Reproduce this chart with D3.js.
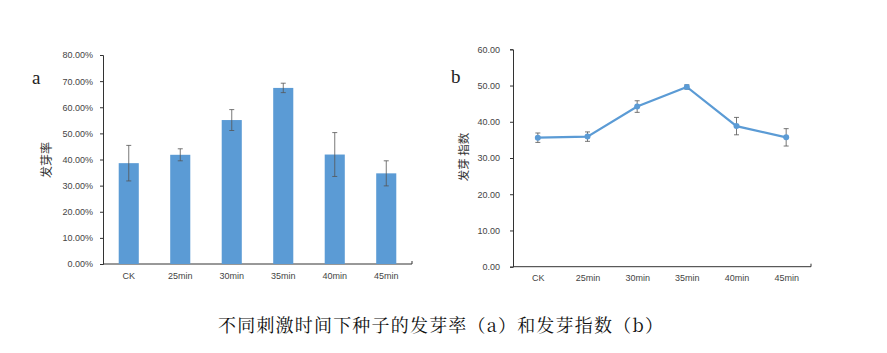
<!DOCTYPE html>
<html>
<head>
<meta charset="utf-8">
<script src="https://cdn.jsdelivr.net/npm/d3@7"></script>
<style>
  body { margin: 0; background: #fff; }
  svg { display: block; }
</style>
</head>
<body>
<div id="chart"></div>
<script>
const categories = ["CK", "25min", "30min", "35min", "40min", "45min"]
// 发芽率 (%)
const rateValues = [38.6, 41.8, 55.1, 67.4, 41.9, 34.7]
const rateErrors = [6.8, 2.3, 4.0, 1.8, 8.4, 4.8]
// 发芽指数
const indexValues = [35.6, 35.9, 44.2, 49.6, 38.8, 35.7]
const indexErrors = [1.3, 1.3, 1.6, 0.6, 2.4, 2.4]
const rateTicks = [0, 10, 20, 30, 40, 50, 60, 70, 80]
const indexTicks = [0, 10, 20, 30, 40, 50, 60]

const width = 887, height = 353
const blue = "#5b9bd5"
const axisColor = "#333"
const errColor = "#555"
const tickFont = "Arial, 'Liberation Sans', sans-serif"

const svg = d3.select("#chart").append("svg")
    .attr("width", width)
    .attr("height", height)
    .attr("viewBox", [0, 0, width, height])

// ---- (a) bar chart ----
const xa = d3.scaleBand().domain(categories).range([103, 412]).paddingInner(0.61).paddingOuter(0.305)
const ya = d3.scaleLinear().domain([0, 80]).range([264, 55])

const ga = svg.append("g")

ga.append("g")
    .attr("transform", "translate(103,0)")
    .call(d3.axisLeft(ya).tickValues(rateTicks).tickSize(3).tickFormat(d => d.toFixed(2) + "%"))
    .call(g => g.select(".domain").attr("stroke", axisColor))
    .call(g => g.selectAll(".tick line").attr("stroke", axisColor))
    .call(g => g.selectAll("text").attr("font-size", 9).attr("fill", "#444").attr("font-family", tickFont).attr("x", -10))

ga.append("g")
    .attr("transform", "translate(0,264)")
    .call(d3.axisBottom(xa).tickSize(0).tickSizeOuter(0))
    .call(g => g.select(".domain").attr("stroke", axisColor).attr("d", "M103,0H412V-3"))
    .call(g => g.selectAll("text").attr("font-size", 9).attr("fill", "#444").attr("font-family", tickFont).attr("dy", "1.3em"))

ga.selectAll("rect.bar")
    .data(categories)
    .join("rect")
    .attr("class", "bar")
    .attr("x", d => xa(d))
    .attr("width", xa.bandwidth())
    .attr("y", (d, i) => ya(rateValues[i]))
    .attr("height", (d, i) => ya(0) - ya(rateValues[i]))
    .attr("fill", blue)

const errA = ga.selectAll("g.err")
    .data(categories)
    .join("g")
    .attr("class", "err")
    .attr("stroke", errColor)
    .attr("stroke-width", 0.8)
errA.append("line")
    .attr("x1", d => xa(d) + xa.bandwidth() / 2)
    .attr("x2", d => xa(d) + xa.bandwidth() / 2)
    .attr("y1", (d, i) => ya(rateValues[i] + rateErrors[i]))
    .attr("y2", (d, i) => ya(rateValues[i] - rateErrors[i]))
errA.selectAll("line.cap")
    .data((d, i) => [rateValues[i] + rateErrors[i], rateValues[i] - rateErrors[i]].map(v => ({ c: d, v })))
    .join("line")
    .attr("class", "cap")
    .attr("x1", d => xa(d.c) + xa.bandwidth() / 2 - 2.5)
    .attr("x2", d => xa(d.c) + xa.bandwidth() / 2 + 2.5)
    .attr("y1", d => ya(d.v))
    .attr("y2", d => ya(d.v))

ga.append("text")
    .attr("x", 47)
    .attr("y", 160)
    .attr("transform", "rotate(-90,47,160)")
    .attr("text-anchor", "middle")
    .attr("dy", "0.35em")
    .attr("font-size", 12)
    .attr("fill", "#333")
    .attr("font-family", "'Noto Sans CJK SC', sans-serif")
    .text("发芽率")

ga.append("text")
    .attr("x", 32)
    .attr("y", 84)
    .attr("font-size", 19)
    .attr("font-family", "'Liberation Serif', 'DejaVu Serif', serif")
    .attr("fill", "#222")
    .text("a")

// ---- (b) line chart ----
const xb = d3.scalePoint().domain(categories).range([513, 811]).padding(0.5)
const yb = d3.scaleLinear().domain([0, 60]).range([266.7, 49.3])

const gb = svg.append("g")

gb.append("g")
    .attr("transform", "translate(513,0)")
    .call(d3.axisLeft(yb).tickValues(indexTicks).tickSize(3).tickFormat(d => d.toFixed(2)))
    .call(g => g.select(".domain").attr("stroke", axisColor))
    .call(g => g.selectAll(".tick line").attr("stroke", axisColor))
    .call(g => g.selectAll("text").attr("font-size", 9).attr("fill", "#444").attr("font-family", tickFont).attr("x", -13))

gb.append("g")
    .attr("transform", "translate(0,266.7)")
    .call(d3.axisBottom(xb).tickSize(0).tickSizeOuter(0))
    .call(g => g.select(".domain").attr("stroke", axisColor).attr("d", "M513,0H811V-3"))
    .call(g => g.selectAll("text").attr("font-size", 9).attr("fill", "#444").attr("font-family", tickFont).attr("dy", "1.3em"))

const line = d3.line()
    .x((d, i) => xb(categories[i]))
    .y(d => yb(d))

gb.append("path")
    .datum(indexValues)
    .attr("d", line)
    .attr("fill", "none")
    .attr("stroke", blue)
    .attr("stroke-width", 2.2)

const errB = gb.selectAll("g.err")
    .data(categories)
    .join("g")
    .attr("class", "err")
    .attr("stroke", errColor)
    .attr("stroke-width", 0.8)
errB.append("line")
    .attr("x1", d => xb(d))
    .attr("x2", d => xb(d))
    .attr("y1", (d, i) => yb(indexValues[i] + indexErrors[i]))
    .attr("y2", (d, i) => yb(indexValues[i] - indexErrors[i]))
errB.selectAll("line.cap")
    .data((d, i) => [indexValues[i] + indexErrors[i], indexValues[i] - indexErrors[i]].map(v => ({ c: d, v })))
    .join("line")
    .attr("class", "cap")
    .attr("x1", d => xb(d.c) - 2.5)
    .attr("x2", d => xb(d.c) + 2.5)
    .attr("y1", d => yb(d.v))
    .attr("y2", d => yb(d.v))

gb.selectAll("circle.pt")
    .data(indexValues)
    .join("circle")
    .attr("class", "pt")
    .attr("cx", (d, i) => xb(categories[i]))
    .attr("cy", d => yb(d))
    .attr("r", 3)
    .attr("fill", blue)

gb.append("text")
    .attr("x", 464)
    .attr("y", 157)
    .attr("transform", "rotate(-90,464,157)")
    .attr("text-anchor", "middle")
    .attr("dy", "0.35em")
    .attr("font-size", 11.5)
    .attr("fill", "#333")
    .attr("font-family", "'Noto Sans CJK SC', sans-serif")
    .text("发芽 指数")

gb.append("text")
    .attr("x", 451)
    .attr("y", 83)
    .attr("font-size", 19)
    .attr("font-family", "'Liberation Serif', 'DejaVu Serif', serif")
    .attr("fill", "#222")
    .text("b")

// ---- caption ----
svg.append("text")
    .attr("x", 218)
    .attr("y", 332)
    .attr("font-size", 18)
    .attr("textLength", 445)
    .attr("lengthAdjust", "spacing")
    .attr("font-family", "'Noto Serif CJK SC', 'Noto Sans CJK SC', serif")
    .attr("fill", "#111")
    .text("不同刺激时间下种子的发芽率（a）和发芽指数（b）")
</script>
</body>
</html>
